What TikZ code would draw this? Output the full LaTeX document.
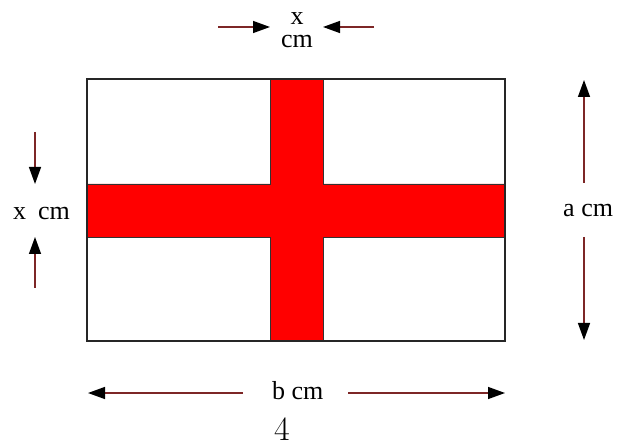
\documentclass[tikz,border=0pt]{standalone}
\usepackage{fontspec}
\newfontfamily\tms{Liberation Serif}
\usetikzlibrary{arrows.meta}
\definecolor{dimred}{RGB}{125,38,38}
\begin{document}
\begin{tikzpicture}[x=1pt,y=-1pt,
  lbl/.style={inner sep=0pt,anchor=base,font=\tms\fontsize{26}{30}\selectfont},
  dimarrow/.style={draw=dimred,line width=1.4pt,-{Triangle[length=17pt,width=12pt,black]}}]
\useasboundingbox (0,0) rectangle (618,443);
% flag
\fill[white] (87,79) rectangle (505,341);
\filldraw[fill=red,draw=black!80,line width=0.9pt]
  (270,79) -- (323,79) -- (323,184) -- (505,184) -- (505,237) -- (323,237)
  -- (323,341) -- (270,341) -- (270,237) -- (87,237) -- (87,184) -- (270,184) -- cycle;
\draw[black!85,line width=1.1pt] (87,79) rectangle (505,341);
% labels
\node[lbl] (tx) at (297,25) {x};
\node[lbl] (tcm) at (297,48) {cm};
\node[lbl,anchor=base west] (lx) at (13,220) {x\hspace{12pt}cm};
\node[lbl,anchor=base west] (ra) at (563,217) {a cm};
\node[lbl,anchor=base west] (bb) at (272,399) {b cm};
\node[inner sep=0pt,anchor=base,font=\fontsize{34}{40}\selectfont] (pg) at (282,440) {4};
% arrow end points
\coordinate (t1s) at (218,27); \coordinate (t1e) at (270,27);
\coordinate (t2s) at (374,27); \coordinate (t2e) at (323,27);
\coordinate (l1s) at (35,132); \coordinate (l1e) at (35,184);
\coordinate (l2s) at (35,288); \coordinate (l2e) at (35,237);
\coordinate (r1s) at (584,183); \coordinate (r1e) at (584,80);
\coordinate (r2s) at (584,237); \coordinate (r2e) at (584,340);
\coordinate (b1s) at (243,393); \coordinate (b1e) at (88,393);
\coordinate (b2s) at (348,393); \coordinate (b2e) at (505,393);
\draw[dimarrow] (t1s) -- (t1e);
\draw[dimarrow] (t2s) -- (t2e);
\draw[dimarrow] (l1s) -- (l1e);
\draw[dimarrow] (l2s) -- (l2e);
\draw[dimarrow] (r1s) -- (r1e);
\draw[dimarrow] (r2s) -- (r2e);
\draw[dimarrow] (b1s) -- (b1e);
\draw[dimarrow] (b2s) -- (b2e);
\end{tikzpicture}
\end{document}
